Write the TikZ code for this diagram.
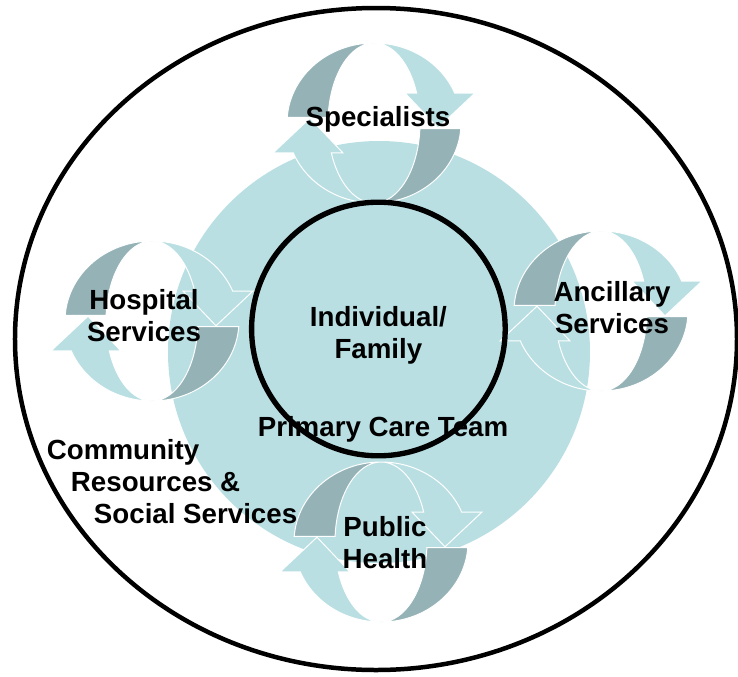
\documentclass[tikz,border=0pt]{standalone}
\usepackage{fontspec}
\setmainfont{Liberation Sans}
\definecolor{pcblue}{HTML}{B9DFE3}
\definecolor{pcdark}{HTML}{95B3B7}

\begin{document}
\begin{tikzpicture}[
    lbl/.style={font=\bfseries\fontsize{19.7}{22.8}\selectfont, align=center},
    band/.style={draw=white, line width=0.7pt}
  ]
  \useasboundingbox (-9.4,-8.425) rectangle (9.05,8.475);

  % ---- Outer boundary (community) ----
  \draw[line width=3.2pt] (0,0) ellipse[x radius=9.025, y radius=8.275];

  % ---- Primary care disk ----
  \fill[pcblue] (0.075,-0.325) circle[radius=5.275];

  % ---- Exchange loops: two curved arrows per service ----
  \foreach \cx/\cy in {-0.05/5.4, -5.6/0.45, 5.625/0.7, 0.125/-5.075}{
    \begin{scope}[shift={(\cx,\cy)}]
      \foreach \rot in {0,180}{
        \begin{scope}[rotate=\rot]
          % tail half (dark)
          \fill[pcdark, band] (176:2.175 and 2)
            arc[start angle=176, end angle=90, x radius=2.175, y radius=2]
            arc[start angle=90, end angle=176, x radius=1.15, y radius=2]
            -- cycle;
          % head half (light) with arrow tip
          \fill[pcblue, band] (90:2.175 and 2)
            arc[start angle=90, end angle=22, x radius=2.175, y radius=2]
            -- (2.525,0.749) -- (1.6,-0.12) -- (0.775,0.749)
            -- (22:1.15 and 2)
            arc[start angle=22, end angle=90, x radius=1.15, y radius=2]
            -- cycle;
        \end{scope}
      }
    \end{scope}
  }

  % ---- Individual / family ring ----
  \node[circle, draw, line width=3.8pt, minimum size=6.34cm, inner sep=0pt]
    (ring) at (0.06,0.25) {};
  \node[lbl] (indiv) at ([yshift=-0.15cm]ring.center) {Individual/\\Family};

  % ---- Labels ----
  \node[lbl] (specs) at (0.05,5.5)   {Specialists};
  \node[lbl] (hosp)  at (-5.8,0.575) {Hospital\\Services};
  \node[lbl] (ancil) at (5.9,0.775)  {Ancillary\\Services};
  \node[lbl] (pubh)  at (0.225,-5.1) {Public\\Health};
  \node[lbl] (pct)   at (0.175,-2.25) {Primary Care Team};
  \node[lbl, align=left, anchor=west] (comm) at (-8.35,-3.575)
    {Community\\\hspace*{0.6cm}Resources \&\\\hspace*{1.175cm}Social Services};

\end{tikzpicture}
\end{document}
